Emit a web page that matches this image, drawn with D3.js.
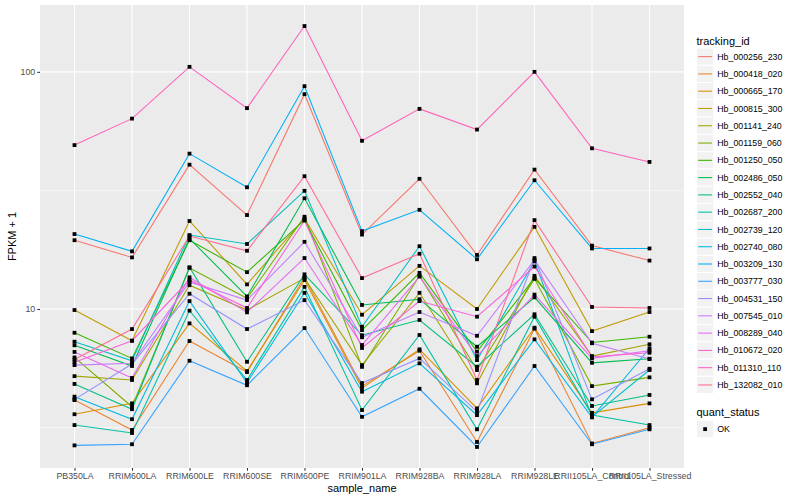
<!DOCTYPE html>
<html>
<head>
<meta charset="utf-8">
<script src="https://cdn.jsdelivr.net/npm/d3@7"></script>
<style>
  body { margin: 0; background: #fff; }
  text { font-family: "Liberation Sans", Arial, sans-serif; }
</style>
</head>
<body>
<svg id="chart" width="800" height="500"></svg>
<script>
const samples = ['PB350LA', 'RRIM600LA', 'RRIM600LE', 'RRIM600SE', 'RRIM600PE', 'RRIM901LA',
    'RRIM928BA', 'RRIM928LA', 'RRIM928LE', 'RRII105LA_Control', 'RRII105LA_Stressed'];

const trackingIds = ['Hb_000256_230', 'Hb_000418_020', 'Hb_000665_170', 'Hb_000815_300', 'Hb_001141_240',
    'Hb_001159_060', 'Hb_001250_050', 'Hb_002486_050', 'Hb_002552_040', 'Hb_002687_200',
    'Hb_002739_120', 'Hb_002740_080', 'Hb_003209_130', 'Hb_003777_030', 'Hb_004531_150',
    'Hb_007545_010', 'Hb_008289_040', 'Hb_010672_020', 'Hb_011310_110', 'Hb_132082_010'];

// FPKM + 1, one row per tracking_id, one value per sample
const fpkm = [
    [19.5, 16.5, 40.6, 24.9, 80.5, 20.6, 35.4, 16.9, 38.7, 18.5, 16.0],
    [4.13, 3.09, 7.33, 5.42, 13.6, 4.73, 6.67, 2.75, 8.26, 2.71, 3.16],
    [3.60, 4.0, 8.70, 5.47, 13.25, 4.64, 6.76, 3.81, 8.34, 3.65, 4.0],
    [9.9, 7.35, 23.5, 12.7, 24.1, 9.46, 15.2, 10.0, 22.2, 8.07, 9.71],
    [5.21, 5.02, 12.6, 9.9, 13.5, 5.8, 11.7, 4.86, 13.8, 6.33, 7.10],
    [6.25, 3.87, 14.9, 11.1, 24.5, 5.7, 13.8, 5.53, 13.4, 4.73, 5.15],
    [7.94, 6.19, 19.5, 14.3, 23.7, 8.15, 14.2, 6.61, 13.5, 7.22, 7.64],
    [7.03, 5.75, 19.8, 11.3, 29.3, 10.4, 11.0, 6.93, 11.2, 5.93, 6.17],
    [4.83, 3.78, 15.0, 5.99, 14.0, 7.75, 8.99, 5.71, 9.5, 3.90, 4.34],
    [3.24, 3.0, 9.84, 5.02, 12.4, 3.75, 7.77, 3.11, 9.28, 3.57, 3.24],
    [7.28, 6.05, 20.5, 18.8, 31.5, 8.42, 18.4, 6.09, 15.9, 3.51, 5.53],
    [4.27, 3.43, 10.8, 4.89, 11.7, 4.48, 5.9, 3.57, 7.45, 3.49, 6.83],
    [20.7, 17.5, 45.2, 32.6, 87, 21.3, 26.2, 16.2, 34.9, 18.0, 18.0],
    [2.66, 2.69, 6.05, 4.77, 8.31, 3.51, 4.61, 2.62, 5.75, 2.69, 3.11],
    [4.16, 5.86, 11.6, 8.23, 10.9, 4.87, 6.19, 3.69, 16.4, 4.16, 5.6],
    [5.80, 5.9, 13.0, 10.9, 19.2, 7.6, 9.71, 7.71, 16.1, 7.17, 6.15],
    [6.59, 5.12, 13.6, 9.68, 16.4, 7.05, 13.7, 6.33, 11.5, 6.19, 6.67],
    [5.97, 7.35, 13.25, 10.1, 23.6, 6.85, 10.8, 9.28, 15.1, 6.29, 6.54],
    [49.1, 63.5, 105, 70.3, 156, 51.2, 69.8, 57.1, 100, 47.6, 41.7],
    [6.13, 8.23, 20.3, 17.6, 36.3, 13.5, 17.1, 5.02, 23.7, 10.2, 10.1]
];

const yTicks = [10, 100];
const yMinorTicks = [Math.sqrt(10), Math.sqrt(1000)];
const quantStatus = ['OK'];

// ggplot hue palette, 20 levels
const palette = ['#F8766D', '#EA8331', '#D89000', '#C09B00', '#A3A500', '#7CAE00', '#39B600', '#00BB4E',
    '#00BF7D', '#00C1A3', '#00BFC4', '#00BAE0', '#00B0F6', '#35A2FF', '#9590FF', '#C77CFF',
    '#E76BF3', '#FA62DB', '#FF62BC', '#FF6C91'];

const svg = d3.select('#chart');
const panel = { left: 40, top: 5, right: 684, bottom: 468 };

const xScale = d3.scalePoint()
    .domain(samples)
    .range([panel.left, panel.right])
    .padding(0.6);

// log scale with 5% expansion like ggplot
const all = fpkm.flat();
const lo = Math.log10(d3.min(all));
const hi = Math.log10(d3.max(all));
const pad = (hi - lo) * 0.05;
const yScale = d3.scaleLog()
    .domain([Math.pow(10, lo - pad), Math.pow(10, hi + pad)])
    .range([panel.bottom, panel.top]);

const color = d3.scaleOrdinal().domain(trackingIds).range(palette);

// panel background
svg.append('rect')
    .attr('x', panel.left).attr('y', panel.top)
    .attr('width', panel.right - panel.left).attr('height', panel.bottom - panel.top)
    .attr('fill', '#EBEBEB');

// grid
const grid = svg.append('g');
grid.selectAll('.minor').data(yMinorTicks).join('line')
    .attr('x1', panel.left).attr('x2', panel.right)
    .attr('y1', (d) => yScale(d)).attr('y2', (d) => yScale(d))
    .attr('stroke', '#fff').attr('stroke-width', 0.53);
grid.selectAll('.major').data(yTicks).join('line')
    .attr('x1', panel.left).attr('x2', panel.right)
    .attr('y1', (d) => yScale(d)).attr('y2', (d) => yScale(d))
    .attr('stroke', '#fff').attr('stroke-width', 1.07);
grid.selectAll('.xmajor').data(samples).join('line')
    .attr('x1', (d) => xScale(d)).attr('x2', (d) => xScale(d))
    .attr('y1', panel.top).attr('y2', panel.bottom)
    .attr('stroke', '#fff').attr('stroke-width', 1.07);

// lines
const line = d3.line()
    .x((d, i) => xScale(samples[i]))
    .y((d) => yScale(d));

svg.append('g').selectAll('path').data(fpkm).join('path')
    .attr('d', (d) => line(d))
    .attr('fill', 'none')
    .attr('stroke', (d, i) => color(trackingIds[i]))
    .attr('stroke-width', 1.07);

// points (quant_status = OK)
const pts = [];
fpkm.forEach((row) => row.forEach((v, j) => pts.push({ s: samples[j], v })));
const ps = 3.8;
svg.append('g').selectAll('rect').data(pts).join('rect')
    .attr('x', (d) => xScale(d.s) - ps / 2)
    .attr('y', (d) => yScale(d.v) - ps / 2)
    .attr('width', ps).attr('height', ps)
    .attr('fill', '#000');

// axes
const xAxis = d3.axisBottom(xScale).tickSize(2.75).tickPadding(2);
const xAxisGroup = svg.append('g')
    .attr('transform', `translate(0,${panel.bottom})`)
    .call(xAxis);
xAxisGroup.select('.domain').remove();
xAxisGroup.selectAll('line').attr('stroke', '#333').attr('stroke-width', 1.07);
xAxisGroup.selectAll('text')
    .attr('fill', '#4D4D4D')
    .attr('font-size', '8.8px')
    .attr('font-family', '"Liberation Sans", Arial, sans-serif');

const yAxis = d3.axisLeft(yScale).tickValues(yTicks).tickFormat(d3.format('d')).tickSize(2.75).tickPadding(2);
const yAxisGroup = svg.append('g')
    .attr('transform', `translate(${panel.left},0)`)
    .call(yAxis);
yAxisGroup.select('.domain').remove();
yAxisGroup.selectAll('line').attr('stroke', '#333').attr('stroke-width', 1.07);
yAxisGroup.selectAll('text')
    .attr('fill', '#4D4D4D')
    .attr('font-size', '8.8px')
    .attr('font-family', '"Liberation Sans", Arial, sans-serif');

// axis titles
svg.append('text')
    .attr('x', (panel.left + panel.right) / 2).attr('y', 492)
    .attr('text-anchor', 'middle').attr('font-size', '11px').attr('fill', '#000')
    .text('sample_name');
svg.append('text')
    .attr('transform', `translate(16,${(panel.top + panel.bottom) / 2}) rotate(-90)`)
    .attr('text-anchor', 'middle').attr('font-size', '11px').attr('fill', '#000')
    .text('FPKM + 1');

// legend: tracking_id
const keySize = 17.28;
const legX = 696.5;
const legend = svg.append('g');
legend.append('text')
    .attr('x', legX).attr('y', 44.5)
    .attr('font-size', '11px').attr('fill', '#000')
    .text('tracking_id');
const keys = legend.selectAll('.key').data(trackingIds).join('g')
    .attr('transform', (d, i) => `translate(${legX},${48 + i * keySize})`);
keys.append('rect')
    .attr('width', keySize).attr('height', keySize)
    .attr('fill', '#F2F2F2').attr('stroke', '#fff').attr('stroke-width', 1);
keys.append('line')
    .attr('x1', 1.7).attr('x2', keySize - 1.7)
    .attr('y1', keySize / 2).attr('y2', keySize / 2)
    .attr('stroke', (d) => color(d)).attr('stroke-width', 1.07);
keys.append('text')
    .attr('x', keySize + 3.5).attr('y', keySize / 2 + 3.1)
    .attr('font-size', '8.8px').attr('fill', '#000')
    .text((d) => d);

// legend: quant_status
legend.append('text')
    .attr('x', legX).attr('y', 416)
    .attr('font-size', '11px').attr('fill', '#000')
    .text('quant_status');
const qKeys = legend.selectAll('.qkey').data(quantStatus).join('g')
    .attr('transform', (d, i) => `translate(${legX},${420.5 + i * keySize})`);
qKeys.append('rect')
    .attr('width', keySize).attr('height', keySize)
    .attr('fill', '#F2F2F2').attr('stroke', '#fff').attr('stroke-width', 1);
qKeys.append('rect')
    .attr('x', keySize / 2 - ps / 2).attr('y', keySize / 2 - ps / 2)
    .attr('width', ps).attr('height', ps).attr('fill', '#000');
qKeys.append('text')
    .attr('x', keySize + 3.5).attr('y', keySize / 2 + 3.1)
    .attr('font-size', '8.8px').attr('fill', '#000')
    .text((d) => d);
</script>
</body>
</html>
